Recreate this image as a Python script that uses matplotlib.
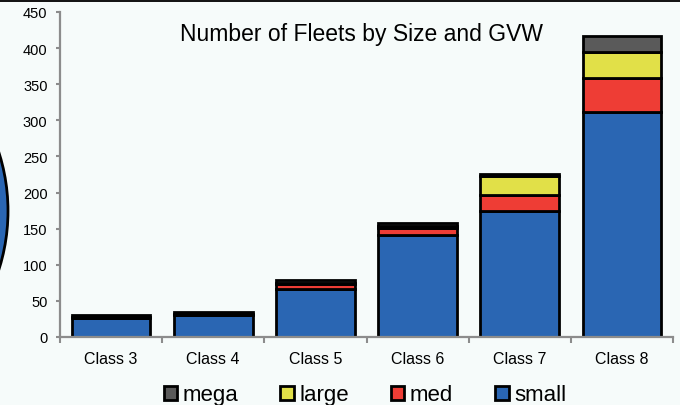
import matplotlib
matplotlib.use("Agg")
import matplotlib.pyplot as plt
from matplotlib.patches import Patch, Ellipse, Rectangle
import numpy as np

plt.rcParams["font.family"] = ["Liberation Sans", "DejaVu Sans"]

classes = ["Class 3", "Class 4", "Class 5", "Class 6", "Class 7", "Class 8"]
small = [26, 30, 66, 141, 175, 311]
med = [1, 1, 7, 10, 21, 48]
large = [1, 1, 2, 3, 27, 36]
mega = [2, 2, 4, 4, 3, 22]

series = [("small", small, "#2a66b3"), ("med", med, "#ee3d35"),
          ("large", large, "#e1e048"), ("mega", mega, "#5a5a5a")]

BG = "#f6fbfa"
AXIS = "#8c8c8c"

fig = plt.figure(figsize=(6.8, 4.06), dpi=100, facecolor=BG)
ax = fig.add_axes([60 / 680, 1 - 338 / 406, 613 / 680, 325 / 406])
ax.set_facecolor(BG)

x = np.arange(len(classes))
bottom = np.zeros(len(classes))
handles = {}
for name, vals, color in series:
    ax.bar(x, vals, 0.77, bottom=bottom, color=color, edgecolor="black",
           linewidth=2.0, zorder=3)
    bottom += np.array(vals)
    handles[name] = Patch(facecolor=color, edgecolor="black", linewidth=2.0)

ax.set_xlim(-0.5, len(classes) - 0.5)
ax.set_ylim(0, 450)
ax.set_yticks(range(0, 451, 50))
ax.tick_params(axis="y", direction="out", length=3, width=1.5, color=AXIS,
               labelsize=10.5, pad=6)
ax.set_xticks(x)
ax.set_xticklabels(classes)
ax.tick_params(axis="x", which="major", length=0, labelsize=11.5, pad=10)
ax.set_xticks(np.arange(-0.5, len(classes)), minor=True)
ax.tick_params(axis="x", which="minor", direction="out", length=4, width=1.5,
               color=AXIS)

for side in ("top", "right"):
    ax.spines[side].set_visible(False)
for side in ("left", "bottom"):
    ax.spines[side].set_color(AXIS)
    ax.spines[side].set_linewidth(1.6)
    ax.spines[side].set_zorder(4)

fig.text(361 / 680, 1 - 34 / 406, "Number of Fleets by Size and GVW",
         ha="center", va="center", fontsize=16.5)

order = ["mega", "large", "med", "small"]
fig.legend([handles[n] for n in order], order, loc="center",
           bbox_to_anchor=(365 / 680, 1 - 396 / 406), ncol=4, frameon=False,
           fontsize=16, handlelength=0.6, handleheight=0.6, handletextpad=0.25,
           columnspacing=1.9, borderpad=0, borderaxespad=0)

# decorative bits from the slide: dark top strip, cut-off circle at left
fig.patches.append(Rectangle((0, 1 - 2.5 / 406), 1, 2.5 / 406,
                             transform=fig.transFigure, facecolor="#151515",
                             edgecolor="none"))
r = 193
fig.patches.append(Ellipse((-185 / 680, 1 - 212 / 406), 2 * r / 680, 2 * r / 406,
                           transform=fig.transFigure, facecolor="#2a66b3",
                           edgecolor="black", linewidth=2.0))

fig.savefig("out.png", dpi=100, facecolor=BG)
